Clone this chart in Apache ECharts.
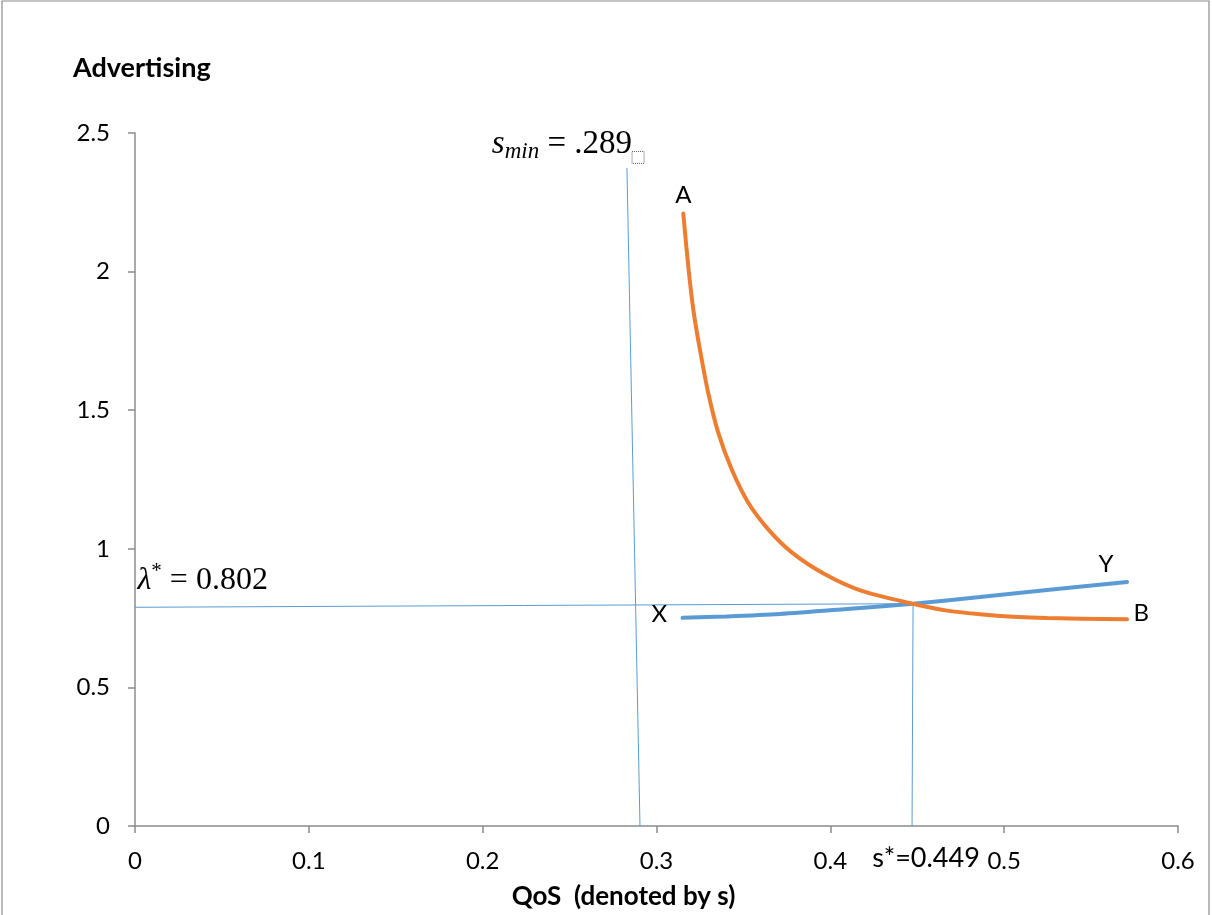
<!DOCTYPE html>
<html>
<head>
<meta charset="utf-8">
<script src="https://cdn.jsdelivr.net/npm/echarts@6/dist/echarts.min.js"></script>
<style>html,body{margin:0;padding:0;background:#fff}#c{width:1212px;height:915px}</style>
</head>
<body>
<div id="c"></div>
<script>
// ---- data ----
const orangeX = [0.3154, 0.3183, 0.3212, 0.3250, 0.3298, 0.3356, 0.3433, 0.3528, 0.3643, 0.3778, 0.3969, 0.4181, 0.4487, 0.4671, 0.4861, 0.5051, 0.5247, 0.5707];
const orangeY = [2.210, 2.018, 1.862, 1.718, 1.561, 1.417, 1.286, 1.166, 1.070, 0.987, 0.908, 0.848, 0.800, 0.777, 0.764, 0.755, 0.750, 0.746];
const blueX = [0.3150, 0.340, 0.371, 0.4096, 0.4476, 0.4861, 0.5247, 0.5707];
const blueY = [0.751, 0.756, 0.765, 0.783, 0.802, 0.826, 0.851, 0.880];
const sminX = [0.283, 0.2905];
const sminY = [2.374, 0];
const lambdaX = [0, 0.448];
const lambdaY = [0.789, 0.802];
const sstarX = [0.4476, 0.447];
const sstarY = [0.802, 0];
const curveEndLabels = { orange: ['A', 'B'], blue: ['X', 'Y'] };
const yTicks = { min: 0, max: 2.5, interval: 0.5 };
const xTicks = { min: 0, max: 0.6, interval: 0.1 };
const titleText = 'Advertising';
const xName = 'QoS  (denoted by s)';
const sStarText = 's*=0.449';

const ORANGE = '#ED7D31', BLUE = '#5B9BD5';
const SANS = 'Lato, "Liberation Sans", sans-serif';
const SERIF = '"Liberation Serif", "DejaVu Serif", serif';

function pts(xs, ys) { return xs.map((x, i) => [x, ys[i]]); }

const orangeData = pts(orangeX, orangeY).map((p, i, a) => {
  const o = { value: p };
  if (i === 0) o.label = { show: true, formatter: curveEndLabels.orange[0], position: 'top', distance: 6 };
  if (i === a.length - 1) o.label = { show: true, formatter: curveEndLabels.orange[1], position: 'right', distance: 6, offset: [0, -6] };
  return o;
});
const blueData = pts(blueX, blueY).map((p, i, a) => {
  const o = { value: p };
  if (i === 0) o.label = { show: true, formatter: curveEndLabels.blue[0], position: 'left', distance: 15, offset: [0, -4] };
  if (i === a.length - 1) o.label = { show: true, formatter: curveEndLabels.blue[1], position: 'top', distance: 5, offset: [-21, 0] };
  return o;
});
const sminData = pts(sminX, sminY).map((p, i) => {
  const o = { value: p };
  if (i === 0) o.label = {
    show: true, position: 'top', distance: 4, offset: [-59, 0],
    formatter: '{s|s}{sub|min}{eq| = .289}{box| }',
    rich: {
      s: { fontFamily: SERIF, fontStyle: 'italic', fontSize: 33, lineHeight: 38, color: '#000' },
      sub: { fontFamily: SERIF, fontStyle: 'italic', fontSize: 23, lineHeight: 22, verticalAlign: 'bottom', color: '#000' },
      eq: { fontFamily: SERIF, fontSize: 33, lineHeight: 38, color: '#000' },
      box: { width: 12, height: 12, borderColor: '#555', borderWidth: 1, borderType: 'dotted', verticalAlign: 'bottom', lineHeight: 14 }
    }
  };
  return o;
});
const lambdaData = pts(lambdaX, lambdaY).map((p, i) => {
  const o = { value: p };
  if (i === 0) o.label = {
    show: true, position: 'right', distance: 2, offset: [0, -27],
    formatter: '{l|λ}{sup|*}{eq| = 0.802}',
    rich: {
      l: { fontFamily: SERIF, fontStyle: 'italic', fontSize: 32, lineHeight: 38, color: '#000' },
      sup: { fontFamily: SERIF, fontSize: 21, lineHeight: 21, verticalAlign: 'top', color: '#000' },
      eq: { fontFamily: SERIF, fontSize: 32, lineHeight: 38, color: '#000' }
    }
  };
  return o;
});
const sstarData = pts(sstarX, sstarY).map((p, i) => {
  const o = { value: p };
  if (i === 1) o.label = { show: true, formatter: sStarText, position: 'bottom', distance: 18, offset: [14, 0], fontSize: 27, fontFamily: SANS, color: '#000' };
  return o;
});

function refLine(data) {
  return {
    type: 'line', data, silent: true, symbol: 'circle', symbolSize: 1, showSymbol: true,
    itemStyle: { color: 'rgba(0,0,0,0)' },
    lineStyle: { color: BLUE, width: 1 },
    label: { color: '#000' }, z: 2, animation: false
  };
}

const chart = echarts.init(document.getElementById('c'), null, { renderer: 'canvas' });
chart.setOption({
  animation: false,
  backgroundColor: '#fff',
  title: { text: titleText, left: 68, top: 50, textStyle: { fontFamily: SANS, fontWeight: 'bold', fontSize: 27, color: '#000' } },
  graphic: [{ type: 'rect', shape: { x: 2, y: 1, width: 1207, height: 1000 }, style: { fill: 'none', stroke: '#8c8c8c', lineWidth: 1.2 }, silent: true }],
  grid: { left: 135, right: 34, top: 133, bottom: 88, containLabel: false },
  xAxis: {
    type: 'value', min: xTicks.min, max: xTicks.max, interval: xTicks.interval,
    name: xName, nameLocation: 'middle', nameGap: 58,
    nameTextStyle: { fontFamily: SANS, fontWeight: 'bold', fontSize: 26, color: '#000', padding: [0, 66, 0, 0] },
    axisLine: { show: true, lineStyle: { color: '#8c8c8c', width: 1.5 } },
    axisTick: { show: true, length: 7, lineStyle: { color: '#8c8c8c', width: 1.5 } },
    axisLabel: { margin: 23, fontFamily: SANS, fontSize: 24, color: '#000', formatter: v => String(+v.toFixed(1)) },
    splitLine: { show: false }
  },
  yAxis: {
    type: 'value', min: yTicks.min, max: yTicks.max, interval: yTicks.interval,
    axisLine: { show: true, lineStyle: { color: '#8c8c8c', width: 1.5 } },
    axisTick: { show: true, length: 7, lineStyle: { color: '#8c8c8c', width: 1.5 } },
    axisLabel: { margin: 25, fontFamily: SANS, fontSize: 24, color: '#000', formatter: v => String(+v.toFixed(1)) },
    splitLine: { show: false }
  },
  series: [
    refLine(sminData),
    refLine(lambdaData),
    refLine(sstarData),
    {
      type: 'line', data: blueData, smooth: 0.3, symbol: 'circle', symbolSize: 1, showSymbol: true,
      itemStyle: { color: 'rgba(0,0,0,0)' },
      lineStyle: { color: BLUE, width: 4, cap: 'round' },
      label: { color: '#000', fontFamily: SANS, fontSize: 24 }, z: 3, animation: false
    },
    {
      type: 'line', data: orangeData, smooth: 0.3, symbol: 'circle', symbolSize: 1, showSymbol: true,
      itemStyle: { color: 'rgba(0,0,0,0)' },
      lineStyle: { color: ORANGE, width: 4, cap: 'round' },
      label: { color: '#000', fontFamily: SANS, fontSize: 24 }, z: 4, animation: false
    }
  ]
});
</script>
</body>
</html>
